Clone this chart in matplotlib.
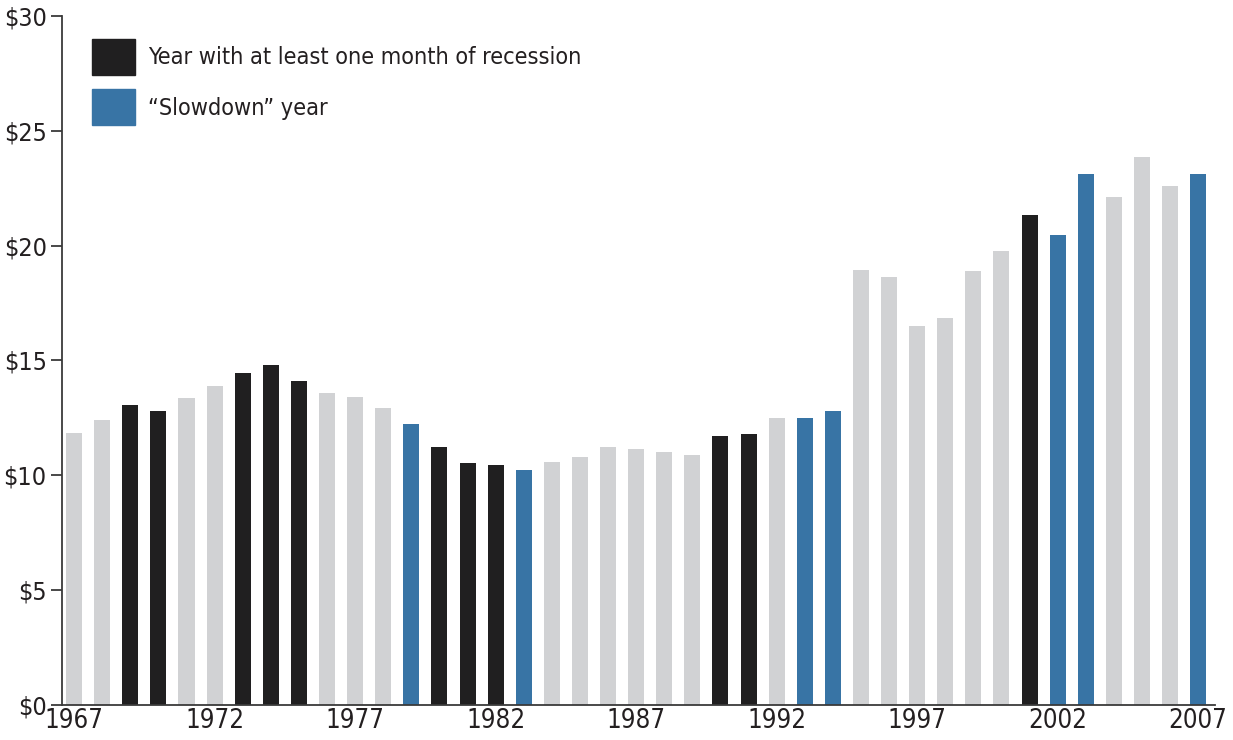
import matplotlib.pyplot as plt
from matplotlib.patches import Patch

plt.rcParams['font.family'] = ['DejaVu Sans']
plt.rcParams['font.stretch'] = 'condensed'

# data
years = list(range(1967, 2008))
values = [11.85, 12.4, 13.05, 12.8, 13.35, 13.9, 14.45, 14.8, 14.1, 13.6,
          13.4, 12.95, 12.25, 11.25, 10.55, 10.45, 10.25, 10.6, 10.8, 11.25,
          11.15, 11.0, 10.9, 11.7, 11.8, 12.5, 12.5, 12.8, 18.95, 18.65,
          16.5, 16.85, 18.9, 19.75, 21.35, 20.45, 23.1, 22.1, 23.85, 22.6,
          23.1]
recession_years = [1969, 1970, 1973, 1974, 1975, 1980, 1981, 1982, 1990, 1991, 2001]
slowdown_years = [1979, 1983, 1993, 1994, 2002, 2003, 2007]
xtick_years = [1967, 1972, 1977, 1982, 1987, 1992, 1997, 2002, 2007]
yticks = [0, 5, 10, 15, 20, 25, 30]

black = '#201f20'
blue = '#3874a5'
grey = '#d1d2d4'

colors = []
for y in years:
    if y in recession_years:
        colors.append(black)
    elif y in slowdown_years:
        colors.append(blue)
    else:
        colors.append(grey)

fig = plt.figure(figsize=(12.33, 7.4), dpi=100)
ax = fig.add_axes([0.0503, 0.0473, 0.9351, 0.9311])
ax.bar(years, values, width=0.57, color=colors)

ax.set_xlim(1966.57, 2007.6)
ax.set_ylim(0, 30)
ax.set_yticks(yticks)
ax.set_yticklabels(['$%d' % v for v in yticks])
ax.set_xticks(xtick_years)
ax.set_xticklabels([str(v) for v in xtick_years])

for s in ['top', 'right']:
    ax.spines[s].set_visible(False)
ax.spines['left'].set_color('#3a3a3a')
ax.spines['bottom'].set_color('#3a3a3a')
ax.spines['left'].set_linewidth(1.3)
ax.spines['bottom'].set_linewidth(1.3)
ax.tick_params(axis='y', length=8, width=1.3, color='#3a3a3a', labelsize=18,
               labelcolor='#231f20', pad=3)
ax.tick_params(axis='x', length=0, labelsize=18.5, labelcolor='#231f20', pad=2)

handles = [Patch(color=black, label='Year with at least one month of recession'),
           Patch(color=blue, label='\u201cSlowdown\u201d year')]
ax.legend(handles=handles, loc='upper left', bbox_to_anchor=(0.026, 0.967),
          borderaxespad=0, borderpad=0,
          frameon=False, fontsize=16.8, handlelength=1.85, handleheight=2.0,
          handletextpad=0.55, labelspacing=0.62, labelcolor='#231f20')

fig.savefig('out.png', dpi=100)
